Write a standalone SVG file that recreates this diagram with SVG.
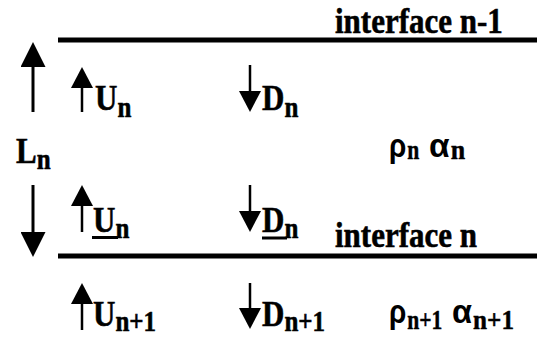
<svg xmlns="http://www.w3.org/2000/svg" width="540" height="337" viewBox="0 0 540 337">
<style>
.t{font-family:'Liberation Serif','Times New Roman',serif;font-weight:700;font-size:31px;fill:#000;stroke:#000;stroke-width:0.5}
.s{font-size:25px}
.g{font-family:'Liberation Sans',Arial,sans-serif;font-weight:700;font-size:31px;fill:#000}
.gs{font-family:'Liberation Serif','Times New Roman',serif;font-weight:700;font-size:24px;stroke:#000;stroke-width:0.4}
.iface{stroke:#000;stroke-width:5;fill:none}
.big{stroke:#000;stroke-width:3;fill:none;marker-end:url(#hb)}
.sm{stroke:#000;stroke-width:2.5;fill:none;marker-end:url(#hs)}
.ul{stroke:#000;stroke-width:3}
</style>
<defs>
<marker id="hb" viewBox="0 0 25 25" refX="2" refY="12.5" markerWidth="25" markerHeight="25" markerUnits="userSpaceOnUse" orient="auto"><path d="M0,0 L25,12.5 L0,25 z" fill="#000"/></marker>
<marker id="hs" viewBox="0 0 21 22" refX="2" refY="11" markerWidth="21" markerHeight="22" markerUnits="userSpaceOnUse" orient="auto"><path d="M0,0 L21,11 L0,22 z" fill="#000"/></marker>
</defs>
<rect width="540" height="337" fill="#fff"/>
<g id="interface-n-1">
<line class="iface" x1="58" y1="40" x2="537" y2="40"/>
<text class="t" transform="translate(335 33) scale(1 1.15)">interface n-1</text>
</g>
<g id="interface-n">
<line class="iface" x1="58" y1="256" x2="537" y2="256"/>
<text class="t" transform="translate(335 247) scale(1 1.15)">interface n</text>
</g>
<g id="layer-thickness">
<text class="t" transform="translate(16 163) scale(1 1.15)">L<tspan class="s" dy="5">n</tspan></text>
</g>
<g id="Un-top">
<text class="t" transform="translate(95 110) scale(1 1.15)">U<tspan class="s" dy="6">n</tspan></text>
</g>
<g id="Dn-top">
<text class="t" transform="translate(262 110) scale(1 1.15)">D<tspan class="s" dy="6">n</tspan></text>
</g>
<g id="props-n">
<text class="g" transform="translate(389 157) scale(0.9 1.1)">ρ<tspan class="gs" dx="1" dy="2">n</tspan></text>
<text class="g" transform="translate(429 157) scale(1.08 1.1)">α<tspan class="gs" dx="1" dy="2">n</tspan></text>
</g>
<g id="Un-bottom">
<text class="t" transform="translate(93 232) scale(1 1.15)">U<tspan class="s" dy="5">n</tspan></text>
<line class="ul" x1="92" y1="237.5" x2="118" y2="237.5"/>
</g>
<g id="Dn-bottom">
<text class="t" transform="translate(262 232) scale(1 1.15)">D<tspan class="s" dy="5">n</tspan></text>
<line class="ul" x1="262" y1="238" x2="287" y2="238"/>
</g>
<g id="Un1">
<text class="t" transform="translate(93 326) scale(1 1.15)">U<tspan class="s" dy="4">n+1</tspan></text>
</g>
<g id="Dn1">
<text class="t" transform="translate(262 326) scale(1 1.15)">D<tspan class="s" dy="4">n+1</tspan></text>
</g>
<g id="props-n1">
<text class="g" transform="translate(389 323) scale(0.9 1.1)">ρ<tspan class="gs" dx="1" dy="5">n+1</tspan></text>
<text class="g" transform="translate(452 323) scale(1.05 1.1)">α<tspan class="gs" dx="1" dy="5">n+1</tspan></text>
</g>
<g id="connectors">
<line class="big" x1="33" y1="112" x2="33" y2="65"/>
<line class="big" x1="33" y1="185" x2="33" y2="234"/>
<line class="sm" x1="82" y1="112" x2="82" y2="86"/>
<line class="sm" x1="82" y1="232" x2="82" y2="204"/>
<line class="sm" x1="82" y1="330" x2="82" y2="302"/>
<line class="sm" x1="250" y1="65" x2="250" y2="93"/>
<line class="sm" x1="250" y1="185" x2="250" y2="213"/>
<line class="sm" x1="250" y1="283" x2="250" y2="310"/>
</g>
</svg>
